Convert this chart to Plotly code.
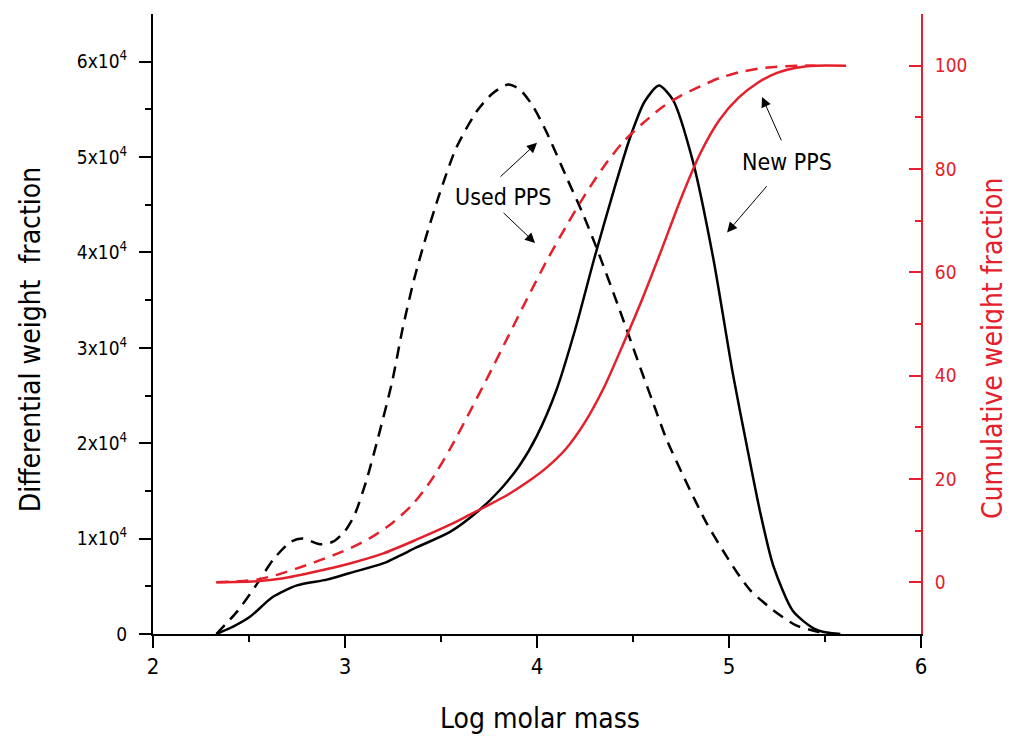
import plotly.graph_objects as go

# ---------------- data ----------------
# Differential weight fraction (left axis)
new_diff_x = [2.33, 2.42, 2.505, 2.625, 2.75, 2.906, 3.026, 3.198, 3.375, 3.547, 3.70, 3.807, 3.91,
              4.0, 4.1, 4.2, 4.3, 4.4, 4.484, 4.56, 4.635, 4.708, 4.81, 4.917,
              5.02, 5.094, 5.161, 5.23, 5.333, 5.44, 5.51, 5.58]
new_diff_y = [0, 800, 1800, 3900, 5100, 5700, 6400, 7400, 9100, 10700, 13000, 15100, 17700,
              20800, 25500, 32000, 39500, 46500, 52000, 55800, 57500, 56000, 49700, 39500,
              27300, 19600, 12900, 7200, 2400, 600, 150, 0]

used_diff_x = [2.33, 2.44, 2.54, 2.63, 2.72, 2.78, 2.87, 2.94, 3.0, 3.05, 3.11, 3.17, 3.245, 3.30,
               3.36, 3.42, 3.49, 3.58, 3.69, 3.77, 3.85, 3.91, 3.98, 4.05, 4.16, 4.24, 4.31, 4.43, 4.54,
               4.60, 4.675, 4.78, 4.884, 4.97, 5.04, 5.11, 5.23, 5.35, 5.47, 5.52]
used_diff_y = [0, 2400, 5200, 7900, 9700, 10000, 9400, 9700, 10800, 12500, 16000, 20400, 26400, 32000,
               37200, 41500, 46000, 51000, 54900, 56700, 57600, 57100, 55300, 52600, 47600, 44000, 40500, 34000, 27800,
               24500, 20400, 15800, 11600, 8700, 6500, 4600, 2500, 900, 200, 0]

# Cumulative weight fraction (right axis)
new_cum_x = [2.33, 2.54, 2.68, 2.85, 3.03, 3.2, 3.375, 3.55, 3.65, 3.75, 3.85, 3.95, 4.05, 4.15,
             4.25, 4.35, 4.45, 4.55, 4.65, 4.75, 4.85, 4.95, 5.05, 5.15, 5.25, 5.35, 5.45, 5.61]
new_cum_y = [0, 0.2, 0.8, 2.1, 3.7, 5.6, 8.3, 11.2, 13.1, 15.0, 17.0, 19.4, 22.2, 25.8,
             31.0, 37.8, 46.2, 55.0, 64.5, 74.3, 83.0, 89.5, 93.8, 96.7, 98.6, 99.6, 100, 100]

used_cum_x = [2.33, 2.45, 2.55, 2.65, 2.75, 2.85, 2.95, 3.05, 3.15, 3.25, 3.35, 3.45, 3.55, 3.65,
              3.75, 3.85, 3.95, 4.05, 4.15, 4.25, 4.35, 4.45, 4.55, 4.65, 4.75, 4.85, 4.95, 5.05,
              5.15, 5.25, 5.35, 5.45]
used_cum_y = [0, 0.2, 0.6, 1.5, 2.7, 4.0, 5.4, 7.0, 9.0, 11.6, 15.0, 19.8, 26.0, 33.0,
              40.2, 47.6, 55.0, 62.2, 68.8, 75.0, 80.6, 85.3, 88.8, 91.9, 94.2, 96.0, 97.6, 98.7,
              99.4, 99.8, 100, 100]

left_ticks = [0, 10000, 20000, 30000, 40000, 50000, 60000]
left_ticktext = ["0", "1x10<sup>4</sup>", "2x10<sup>4</sup>", "3x10<sup>4</sup>",
                 "4x10<sup>4</sup>", "5x10<sup>4</sup>", "6x10<sup>4</sup>"]
right_ticks = [0, 20, 40, 60, 80, 100]
x_ticks = [2, 3, 4, 5, 6]

# ---------------- style ----------------
RED = "#E3202B"
BLACK = "#000000"
FONT = "Liberation Sans Narrow, DejaVu Sans Condensed, Roboto Condensed, Arial Narrow, Liberation Sans, sans-serif"
SM = 0.7

fig = go.Figure()
fig.add_trace(go.Scatter(x=new_diff_x, y=new_diff_y, mode="lines", line=dict(color=BLACK, width=2.5, shape="spline", smoothing=SM), showlegend=False))
fig.add_trace(go.Scatter(x=used_diff_x, y=used_diff_y, mode="lines", line=dict(color=BLACK, width=2.5, dash="12px,8px", shape="spline", smoothing=SM), showlegend=False))
fig.add_trace(go.Scatter(x=new_cum_x, y=new_cum_y, mode="lines", yaxis="y2", line=dict(color=RED, width=2.5, shape="spline", smoothing=SM), showlegend=False))
fig.add_trace(go.Scatter(x=used_cum_x, y=used_cum_y, mode="lines", yaxis="y2", line=dict(color=RED, width=2.5, dash="12px,8px", shape="spline", smoothing=SM), showlegend=False))

# page body has an 8px default margin -> figure is 1004x730 with plot area at (153,14)-(921,634) on screen
fig.update_layout(
    width=1004, height=730,
    margin=dict(l=145, r=91, t=6, b=104),
    paper_bgcolor="white", plot_bgcolor="white",
    font=dict(family=FONT, size=20, color=BLACK),
    xaxis=dict(range=[2, 6], tickvals=x_ticks, ticks="outside", ticklen=12, tickwidth=2,
               tickcolor=BLACK, showline=True, linewidth=2, linecolor=BLACK, showgrid=False,
               zeroline=False, tickfont=dict(size=22),
               minor=dict(tickvals=[2.5, 3.5, 4.5, 5.5], ticks="outside", ticklen=6, tickwidth=2, tickcolor=BLACK)),
    yaxis=dict(range=[0, 65000], tickvals=left_ticks, ticktext=left_ticktext, ticks="outside",
               ticklen=12, tickwidth=2, tickcolor=BLACK, showline=True, linewidth=2, linecolor=BLACK,
               showgrid=False, zeroline=False, tickfont=dict(size=19), ticklabelstandoff=8,
               minor=dict(tickvals=[5000, 15000, 25000, 35000, 45000, 55000], ticks="outside", ticklen=6, tickwidth=2, tickcolor=BLACK)),
    yaxis2=dict(range=[-10, 110], overlaying="y", side="right", tickvals=right_ticks, ticks="inside",
                ticklen=12, tickwidth=2, tickcolor=RED, showline=True, linewidth=2, linecolor=RED,
                showgrid=False, zeroline=False, tickfont=dict(size=19, color=RED), ticklabelstandoff=8,
                minor=dict(tickvals=[10, 30, 50, 70, 90], ticks="inside", ticklen=6, tickwidth=2, tickcolor=RED)),
)

annotations = [
    dict(text="Differential weight  fraction", xref="paper", yref="paper", x=-0.16, y=0.474,
         textangle=-90, showarrow=False, font=dict(size=28, color=BLACK), xanchor="center", yanchor="middle"),
    dict(text="Cumulative weight fraction", xref="paper", yref="paper", x=1.094, y=0.46,
         textangle=-90, showarrow=False, font=dict(size=28, color=RED), xanchor="center", yanchor="middle"),
    dict(text="Log molar mass", xref="paper", yref="paper", x=0.504, y=-0.137,
         showarrow=False, font=dict(size=28, color=BLACK), xanchor="center", yanchor="middle"),
    dict(text="Used PPS", xref="x", yref="y", x=3.823, y=45800, showarrow=False,
         font=dict(size=23, color=BLACK)),
    dict(text="New PPS", xref="x", yref="y", x=5.302, y=49500, showarrow=False,
         font=dict(size=23, color=BLACK)),
]
arrows = [
    (4.0, 51500, 3.802, 47800),
    (3.99, 41000, 3.818, 44300),
    (5.172, 56300, 5.276, 51600),
    (4.99, 42100, 5.203, 47100),
]
for hx, hy, tx, ty in arrows:
    annotations.append(dict(text="", xref="x", yref="y", axref="x", ayref="y", x=hx, y=hy, ax=tx, ay=ty,
                            showarrow=True, arrowhead=2, arrowsize=2, arrowwidth=1, arrowcolor=BLACK,
                            standoff=0, startstandoff=0))
fig.update_layout(annotations=annotations)

fig.write_html("out.html")
